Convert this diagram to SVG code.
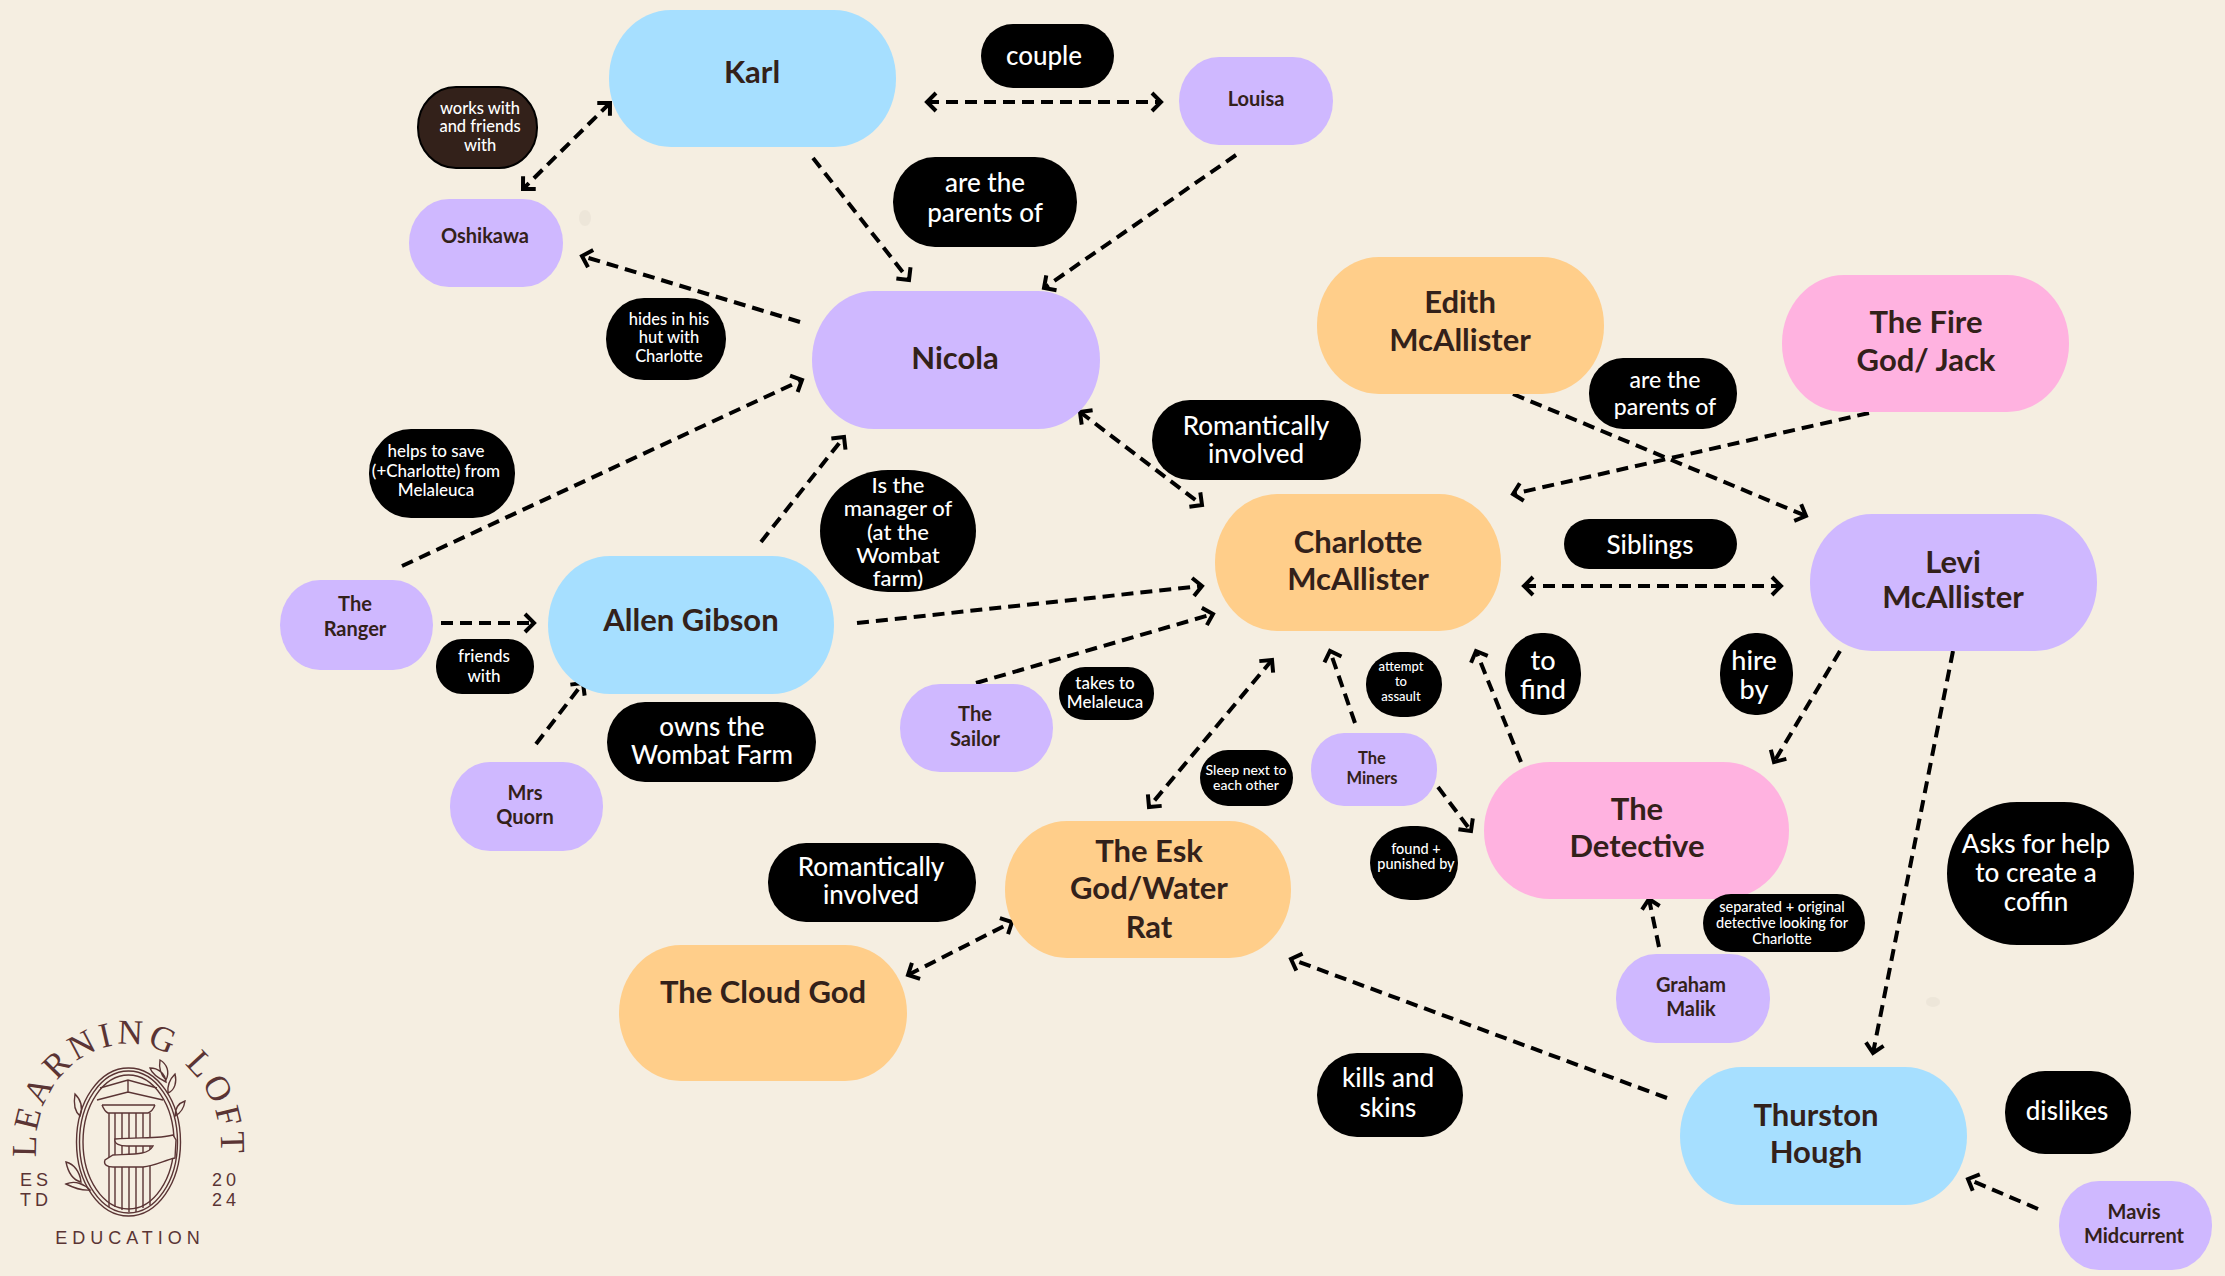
<svg xmlns="http://www.w3.org/2000/svg" width="2225" height="1276" viewBox="0 0 2225 1276">
<style>
text{font-family:"Lato","Open Sans",sans-serif;text-anchor:middle}
.big text{font-size:31px;font-weight:700;fill:#33211a}
.small text{font-size:20px;font-weight:700;fill:#33211a}
.lab text{fill:#fff;font-weight:500}
.lab rect{fill:#000}
.blue{fill:#a6dfff}.purple{fill:#cfb8ff}.orange{fill:#ffce8a}.pink{fill:#ffb2e0}
#connectors line{stroke:#000;stroke-width:4;stroke-dasharray:12 7;fill:none}
.logo text{fill:#5a3434}
.logo .ln{fill:none;stroke:#5a3434;stroke-width:1.4}
.logo .hand{fill:#f5eee1;stroke:#5a3434;stroke-width:1.4}
</style>
<defs>
<marker id="ah" markerUnits="userSpaceOnUse" markerWidth="26" markerHeight="26" viewBox="0 0 26 26" refX="14" refY="13" orient="auto-start-reverse"><path d="M5 4L14 13L5 22" fill="none" stroke="#000" stroke-width="4"/></marker>
<path id="arc" d="M36 1147A92.500 103 0 0 1 221 1147"/>
</defs>
<rect width="2225" height="1276" fill="#f5eee1"/>
<g fill="#e9e2d5" opacity="0.7"><ellipse cx="585" cy="218" rx="6" ry="8"/><ellipse cx="1933" cy="1002" rx="7" ry="5"/></g>
<g id="connectors">
<line x1="927" y1="102" x2="1161" y2="102" marker-start="url(#ah)" marker-end="url(#ah)"/>
<line x1="610" y1="103" x2="523" y2="189" marker-start="url(#ah)" marker-end="url(#ah)"/>
<line x1="813" y1="158" x2="909" y2="280" marker-end="url(#ah)"/>
<line x1="1236" y1="155" x2="1044" y2="288" marker-end="url(#ah)"/>
<line x1="800" y1="322" x2="582" y2="256" marker-end="url(#ah)"/>
<line x1="402" y1="566" x2="802" y2="380" marker-end="url(#ah)"/>
<line x1="761" y1="542" x2="844" y2="437" marker-end="url(#ah)"/>
<line x1="1080" y1="412" x2="1202" y2="505" marker-start="url(#ah)" marker-end="url(#ah)"/>
<line x1="1513" y1="394" x2="1806" y2="516" marker-end="url(#ah)"/>
<line x1="1869" y1="413" x2="1513" y2="494" marker-end="url(#ah)"/>
<line x1="1524" y1="586" x2="1781" y2="586" marker-start="url(#ah)" marker-end="url(#ah)"/>
<line x1="441" y1="623" x2="534" y2="623" marker-end="url(#ah)"/>
<line x1="857" y1="623" x2="1202" y2="586" marker-end="url(#ah)"/>
<line x1="976" y1="683" x2="1213" y2="614" marker-end="url(#ah)"/>
<line x1="536" y1="744" x2="583" y2="683" marker-end="url(#ah)"/>
<line x1="1272" y1="660" x2="1149" y2="807" marker-start="url(#ah)" marker-end="url(#ah)"/>
<line x1="1355" y1="723" x2="1330" y2="651" marker-end="url(#ah)"/>
<line x1="1438" y1="787" x2="1471" y2="831" marker-end="url(#ah)"/>
<line x1="1521" y1="762" x2="1476" y2="651" marker-end="url(#ah)"/>
<line x1="1840" y1="651" x2="1774" y2="762" marker-end="url(#ah)"/>
<line x1="1953" y1="651" x2="1873" y2="1053" marker-end="url(#ah)"/>
<line x1="1659" y1="947" x2="1649" y2="899" marker-end="url(#ah)"/>
<line x1="1667" y1="1098" x2="1291" y2="959" marker-end="url(#ah)"/>
<line x1="2038" y1="1209" x2="1968" y2="1179" marker-end="url(#ah)"/>
<line x1="908" y1="975" x2="1012" y2="922" marker-start="url(#ah)" marker-end="url(#ah)"/>
</g>
<g id="n-karl" class="big"><rect class="blue" x="609" y="10" width="287" height="137" rx="62" ry="68"/><text x="752" y="83">Karl</text></g>
<g id="n-nicola" class="big"><rect class="purple" x="812" y="291" width="288" height="138" rx="62" ry="69"/><text x="955" y="369">Nicola</text></g>
<g id="n-edith" class="big"><rect class="orange" x="1317" y="257" width="287" height="137" rx="62" ry="68"/><text><tspan x="1460" y="313">Edith</tspan><tspan x="1460" y="351">McAllister</tspan></text></g>
<g id="n-fire" class="big"><rect class="pink" x="1782" y="275" width="287" height="137" rx="62" ry="68"/><text><tspan x="1926" y="333">The Fire</tspan><tspan x="1926" y="371">God/ Jack</tspan></text></g>
<g id="n-charlotte" class="big"><rect class="orange" x="1215" y="494" width="286" height="137" rx="62" ry="68"/><text><tspan x="1358" y="553">Charlotte</tspan><tspan x="1358" y="590">McAllister</tspan></text></g>
<g id="n-levi" class="big"><rect class="purple" x="1810" y="514" width="287" height="137" rx="62" ry="68"/><text><tspan x="1953" y="573">Levi</tspan><tspan x="1953" y="608">McAllister</tspan></text></g>
<g id="n-allen" class="big"><rect class="blue" x="548" y="556" width="286" height="138" rx="62" ry="69"/><text x="691" y="631">Allen Gibson</text></g>
<g id="n-esk" class="big"><rect class="orange" x="1005" y="821" width="286" height="137" rx="62" ry="68"/><text><tspan x="1149" y="862">The Esk</tspan><tspan x="1149" y="899">God/Water</tspan><tspan x="1149" y="938">Rat</tspan></text></g>
<g id="n-detective" class="big"><rect class="pink" x="1484" y="762" width="305" height="137" rx="66" ry="68"/><text><tspan x="1637" y="820">The</tspan><tspan x="1637" y="857">Detective</tspan></text></g>
<g id="n-cloud" class="big"><rect class="orange" x="619" y="945" width="288" height="136" rx="62" ry="68"/><text x="763" y="1003">The Cloud God</text></g>
<g id="n-thurston" class="big"><rect class="blue" x="1680" y="1067" width="287" height="138" rx="62" ry="69"/><text><tspan x="1816" y="1126">Thurston</tspan><tspan x="1816" y="1163">Hough</tspan></text></g>
<g id="n-louisa" class="small"><rect class="purple" x="1179" y="57" width="154" height="88" rx="40" ry="44"/><text x="1256" y="106">Louisa</text></g>
<g id="n-oshikawa" class="small"><rect class="purple" x="409" y="199" width="154" height="88" rx="40" ry="44"/><text x="485" y="243">Oshikawa</text></g>
<g id="n-ranger" class="small"><rect class="purple" x="280" y="580" width="153" height="90" rx="40" ry="45"/><text><tspan x="355" y="611">The</tspan><tspan x="355" y="636">Ranger</tspan></text></g>
<g id="n-sailor" class="small"><rect class="purple" x="900" y="684" width="153" height="88" rx="40" ry="44"/><text><tspan x="975" y="721">The</tspan><tspan x="975" y="746">Sailor</tspan></text></g>
<g id="n-quorn" class="small"><rect class="purple" x="450" y="762" width="153" height="89" rx="40" ry="44"/><text><tspan x="525" y="800">Mrs</tspan><tspan x="525" y="824">Quorn</tspan></text></g>
<g id="n-miners" class="small"><rect class="purple" x="1311" y="733" width="126" height="73" rx="33" ry="36"/><text style="font-size:16.500px"><tspan x="1372" y="764">The</tspan><tspan x="1372" y="784">Miners</tspan></text></g>
<g id="n-graham" class="small"><rect class="purple" x="1616" y="954" width="154" height="89" rx="40" ry="44"/><text><tspan x="1691" y="992">Graham</tspan><tspan x="1691" y="1016">Malik</tspan></text></g>
<g id="n-mavis" class="small"><rect class="purple" x="2059" y="1181" width="153" height="89" rx="40" ry="44"/><text><tspan x="2134" y="1219">Mavis</tspan><tspan x="2134" y="1243">Midcurrent</tspan></text></g>
<g id="l-couple" class="lab"><rect x="981" y="24" width="133" height="64" rx="32" ry="32"/><text font-size="26" x="1044" y="65">couple</text></g>
<g id="l-parents1" class="lab"><rect x="893" y="157" width="184" height="90" rx="42" ry="45"/><text font-size="26"><tspan x="985" y="192">are the</tspan><tspan x="985" y="222">parents of</tspan></text></g>
<g id="l-works" class="lab"><rect x="418" y="87" width="119" height="81" rx="38" ry="40" style="fill:#33211a;stroke:#000;stroke-width:2"/><text font-size="16.500"><tspan x="480" y="114">works with</tspan><tspan x="480" y="132">and friends</tspan><tspan x="480" y="151">with</tspan></text></g>
<g id="l-hides" class="lab"><rect x="606" y="298" width="120" height="82" rx="38" ry="41"/><text font-size="16.500"><tspan x="669" y="325">hides in his</tspan><tspan x="669" y="343">hut with</tspan><tspan x="669" y="362">Charlotte</tspan></text></g>
<g id="l-rom1" class="lab"><rect x="1152" y="400" width="209" height="80" rx="38" ry="40"/><text font-size="26"><tspan x="1256" y="435">Romantically</tspan><tspan x="1256" y="463">involved</tspan></text></g>
<g id="l-parents2" class="lab"><rect x="1589" y="358" width="148" height="71" rx="34" ry="35"/><text font-size="23"><tspan x="1665" y="388">are the</tspan><tspan x="1665" y="415">parents of</tspan></text></g>
<g id="l-siblings" class="lab"><rect x="1564" y="519" width="173" height="50" rx="25" ry="25"/><text font-size="26" x="1650" y="554">Siblings</text></g>
<g id="l-helps" class="lab"><rect x="369" y="429" width="146" height="89" rx="42" ry="44"/><text font-size="17"><tspan x="436" y="457">helps to save</tspan><tspan x="436" y="477">(+Charlotte) from</tspan><tspan x="436" y="496">Melaleuca</tspan></text></g>
<g id="l-manager" class="lab"><rect x="820" y="470" width="156" height="122" rx="68" ry="61"/><text font-size="22"><tspan x="898" y="493">Is the</tspan><tspan x="898" y="516">manager of</tspan><tspan x="898" y="540">(at the</tspan><tspan x="898" y="563">Wombat</tspan><tspan x="898" y="586">farm)</tspan></text></g>
<g id="l-friends" class="lab"><rect x="436" y="639" width="98" height="55" rx="26" ry="27"/><text font-size="17"><tspan x="484" y="662">friends</tspan><tspan x="484" y="682">with</tspan></text></g>
<g id="l-owns" class="lab"><rect x="607" y="702" width="209" height="80" rx="38" ry="40"/><text font-size="26"><tspan x="712" y="736">owns the</tspan><tspan x="712" y="764">Wombat Farm</tspan></text></g>
<g id="l-takes" class="lab"><rect x="1059" y="667" width="95" height="53" rx="26" ry="26"/><text font-size="17"><tspan x="1105" y="689">takes to</tspan><tspan x="1105" y="708">Melaleuca</tspan></text></g>
<g id="l-attempt" class="lab"><rect x="1366" y="652" width="76" height="65" rx="34" ry="32"/><text font-size="13"><tspan x="1401" y="671">attempt</tspan><tspan x="1401" y="686">to</tspan><tspan x="1401" y="701">assault</tspan></text></g>
<g id="l-find" class="lab"><rect x="1505" y="633" width="76" height="82" rx="36" ry="40"/><text font-size="27"><tspan x="1543" y="670">to</tspan><tspan x="1543" y="699">find</tspan></text></g>
<g id="l-hire" class="lab"><rect x="1720" y="633" width="73" height="82" rx="35" ry="40"/><text font-size="27"><tspan x="1754" y="670">hire</tspan><tspan x="1754" y="699">by</tspan></text></g>
<g id="l-sleep" class="lab"><rect x="1200" y="750" width="93" height="56" rx="28" ry="28"/><text font-size="14"><tspan x="1246" y="775">Sleep next to</tspan><tspan x="1246" y="790">each other</tspan></text></g>
<g id="l-found" class="lab"><rect x="1370" y="826" width="88" height="74" rx="40" ry="37"/><text font-size="14.500"><tspan x="1416" y="854">found +</tspan><tspan x="1416" y="869">punished by</tspan></text></g>
<g id="l-separated" class="lab"><rect x="1703" y="894" width="162" height="58" rx="28" ry="29"/><text font-size="14.500"><tspan x="1782" y="912">separated + original</tspan><tspan x="1782" y="928">detective looking for</tspan><tspan x="1782" y="944">Charlotte</tspan></text></g>
<g id="l-rom2" class="lab"><rect x="768" y="843" width="208" height="79" rx="38" ry="39"/><text font-size="26"><tspan x="871" y="876">Romantically</tspan><tspan x="871" y="904">involved</tspan></text></g>
<g id="l-asks" class="lab"><rect x="1947" y="802" width="187" height="143" rx="70" ry="71"/><text font-size="26"><tspan x="2036" y="853">Asks for help</tspan><tspan x="2036" y="882">to create a</tspan><tspan x="2036" y="911">coffin</tspan></text></g>
<g id="l-kills" class="lab"><rect x="1317" y="1053" width="146" height="84" rx="40" ry="42"/><text font-size="26"><tspan x="1388" y="1087">kills and</tspan><tspan x="1388" y="1117">skins</tspan></text></g>
<g id="l-dislikes" class="lab"><rect x="2005" y="1071" width="126" height="83" rx="40" ry="41"/><text font-size="26" x="2067" y="1120">dislikes</text></g>
<g id="logo" class="logo">
<text style="font-family:'Liberation Serif',serif;font-size:35px;letter-spacing:4px"><textPath href="#arc" startOffset="50%">LEARNING LOFT</textPath></text>
<text style="font-family:'Liberation Sans',sans-serif;font-size:18px;letter-spacing:4px"><tspan x="36" y="1186">ES</tspan><tspan x="36" y="1206">TD</tspan><tspan x="226" y="1186">20</tspan><tspan x="226" y="1206">24</tspan></text>
<text style="font-family:'Liberation Sans',sans-serif;font-size:18px;letter-spacing:5px" x="130" y="1244">EDUCATION</text>
<ellipse class="ln" cx="128.500" cy="1142" rx="52" ry="74"/>
<ellipse class="ln" cx="128.500" cy="1142" rx="49" ry="71"/>
<ellipse class="ln" cx="128.500" cy="1142" rx="45.500" ry="67"/>
<path class="ln" d="M100 1088L128 1080L157 1088M128 1080V1092M97 1100L128 1092L163 1100M102 1105H155M102 1105C104 1110 106 1112 108 1113H148C151 1112 153 1110 155 1105"/>
<path class="ln" d="M109 1113V1207M115 1113V1207M122 1113V1210M129 1113V1212M136 1113V1212M143 1113V1208M150 1113V1205"/>
<path class="hand" d="M173 1135C160 1139 140 1137 115 1139C114 1144 120 1146 127 1146H153C148 1155 135 1154 113 1155L105 1160C103 1165 108 1167 113 1167H143C155 1166 165 1160 175 1158L176 1140Z"/>
<path class="ln" d="M80 1116C73 1110 74 1100 75 1094C81 1100 83 1108 80 1116ZM166 1082C158 1078 152 1074 150 1068C158 1068 165 1073 166 1082ZM166 1080C160 1074 159 1066 160 1060C167 1064 170 1072 166 1080ZM168 1093C167 1084 171 1078 175 1074C177 1082 175 1090 168 1093ZM175 1116C175 1108 179 1103 185 1101C184 1108 181 1113 175 1116ZM81 1182C73 1180 68 1172 66 1162C74 1164 80 1172 81 1182ZM90 1190C80 1191 72 1187 66 1184C75 1180 84 1184 90 1190Z"/>
</g>
</svg>
